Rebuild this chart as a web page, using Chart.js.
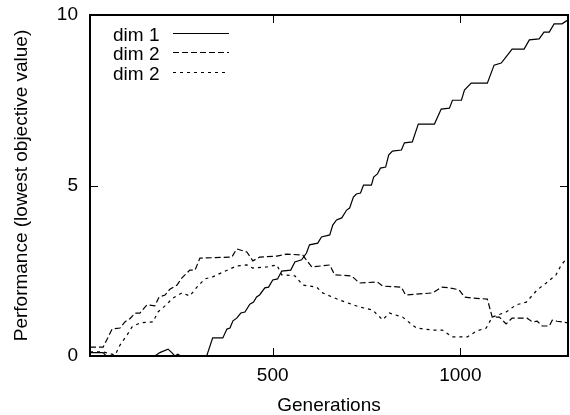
<!DOCTYPE html>
<html>
<head>
<meta charset="utf-8">
<script src="https://cdn.jsdelivr.net/npm/chart.js@4.4.0/dist/chart.umd.min.js"></script>
<style>
  html, body { margin: 0; padding: 0; background: #fff; }
  canvas { display: block; }
</style>
</head>
<body>
<canvas id="perfChart" width="570" height="415"></canvas>
<script>
// ===== data =====
const dim1Gen = [13,48,56,186,199,221,231,239,247,255,324,340,367,378,386,394,404,415,426,439,
  449,457,465,479,489,500,513,524,548,559,577,590,598,620,630,652,660,670,684,697,
  705,715,723,734,742,763,769,779,787,801,809,819,843,851,872,888,931,949,971,979,
  1003,1011,1029,1072,1090,1109,1122,1138,1170,1184,1210,1223,1237,1250,1271,1282,1287];
const dim1Perf = [0.1,0.1,0,0,0.1,0.2,0.1,0,0.05,0,0,0.53,0.53,0.79,0.82,1.03,1.11,1.26,1.29,1.52,
  1.58,1.73,1.79,2.0,2.02,2.23,2.26,2.49,2.52,2.76,2.82,3.02,3.26,3.31,3.49,3.55,3.84,3.99,4.05,4.28,
  4.34,4.66,4.75,4.78,5.01,5.01,5.25,5.34,5.51,5.54,5.89,6.01,6.04,6.25,6.28,6.8,6.8,7.24,7.27,7.5,
  7.5,7.8,8.0,8.0,8.53,8.59,8.77,9.0,9.0,9.27,9.3,9.5,9.5,9.74,9.74,9.82,9.85];

const dim2Gen = [13,48,72,93,106,120,133,146,165,186,197,213,226,245,258,279,293,306,391,404,
  431,447,465,511,537,580,604,652,665,710,731,779,793,843,854,891,926,950,971,997,
  1011,1032,1072,1085,1104,1122,1138,1178,1192,1205,1218,1237,1245,1258,1287];
const dim2Perf = [0.26,0.26,0.79,0.82,1.0,1.1,1.26,1.26,1.5,1.47,1.73,1.79,1.96,2.08,2.29,2.52,2.52,2.87,2.9,3.14,
  3.05,2.79,2.9,2.93,2.99,2.96,2.61,2.67,2.38,2.35,2.14,2.17,2.05,2.02,1.79,1.82,1.85,2.02,2.0,1.94,
  1.73,1.70,1.67,1.14,1.14,0.94,1.11,1.11,1.0,1.02,0.88,0.88,1.05,1.02,0.97];

const dim3Gen = [13,48,80,93,112,125,146,181,194,213,234,258,279,298,319,340,367,404,431,447,
  484,511,524,559,580,617,633,678,731,766,793,811,846,883,926,952,979,1019,1043,1069,
  1085,1122,1149,1176,1205,1229,1255,1269,1287];
const dim3Perf = [0.12,0.12,0.03,0.32,0.62,0.85,0.97,1.0,1.29,1.47,1.7,1.85,1.76,2.02,2.26,2.32,2.46,2.64,2.67,2.58,
  2.61,2.67,2.38,2.35,2.08,2.02,1.85,1.64,1.44,1.35,1.06,1.26,1.14,0.82,0.76,0.76,0.56,0.56,0.73,0.82,
  1.14,1.29,1.5,1.58,1.94,2.14,2.38,2.67,2.9];

const seriesLabels = ['dim 1', 'dim 2', 'dim 2'];
const xTicks = [500, 1000];
const yTicks = [0, 5, 10];

// ===== helpers =====
const FONT = '"Liberation Sans", Arial, sans-serif';
const FONT_SIZE = 19;
const toPoints = (xs, ys) => xs.map((x, i) => ({ x, y: ys[i] }));

Chart.defaults.font.family = FONT;
Chart.defaults.font.size = FONT_SIZE;
Chart.defaults.color = '#000';

// gnuplot style box with inward (mirrored) tics
const frameTicks = {
  id: 'frameTicks',
  afterDatasetsDraw(chart) {
    const { ctx, chartArea: a, scales } = chart;
    const len = 8;
    ctx.save();
    ctx.strokeStyle = '#000';
    ctx.lineWidth = 1;
    ctx.beginPath();
    xTicks.forEach(v => {
      const px = Math.round(scales.x.getPixelForValue(v)) + 0.5;
      ctx.moveTo(px, a.bottom); ctx.lineTo(px, a.bottom - len);
      ctx.moveTo(px, a.top); ctx.lineTo(px, a.top + len);
    });
    yTicks.forEach(v => {
      const py = Math.round(scales.y.getPixelForValue(v)) + 0.5;
      ctx.moveTo(a.left, py); ctx.lineTo(a.left + len, py);
      ctx.moveTo(a.right, py); ctx.lineTo(a.right - len, py);
    });
    ctx.stroke();
    ctx.lineWidth = 2;
    ctx.strokeRect(a.left, a.top, a.right - a.left, a.bottom - a.top);
    ctx.restore();
  }
};

// key in the top left corner, text then line sample
const keyBox = {
  id: 'keyBox',
  afterDraw(chart) {
    const { ctx } = chart;
    ctx.save();
    ctx.font = FONT_SIZE + 'px ' + FONT;
    ctx.fillStyle = '#000';
    ctx.textAlign = 'left';
    ctx.textBaseline = 'alphabetic';
    chart.data.datasets.forEach((ds, i) => {
      const base = 41 + i * 19.3;
      ctx.fillText(ds.label, 113, base);
      ctx.beginPath();
      ctx.setLineDash(ds.borderDash || []);
      ctx.lineWidth = ds.borderWidth;
      ctx.strokeStyle = ds.borderColor;
      const ly = Math.round(base - 8) + 0.5;
      ctx.moveTo(173, ly); ctx.lineTo(229, ly);
      ctx.stroke();
    });
    ctx.restore();
  }
};

new Chart(document.getElementById('perfChart'), {
  type: 'line',
  data: {
    datasets: [
      { label: seriesLabels[0], data: toPoints(dim1Gen, dim1Perf), borderColor: '#000', borderWidth: 1.2, borderDash: [] },
      { label: seriesLabels[1], data: toPoints(dim2Gen, dim2Perf), borderColor: '#000', borderWidth: 1.2, borderDash: [6, 3] },
      { label: seriesLabels[2], data: toPoints(dim3Gen, dim3Perf), borderColor: '#000', borderWidth: 1.2, borderDash: [3, 4] }
    ]
  },
  options: {
    responsive: false,
    animation: false,
    devicePixelRatio: 1,
    layout: { padding: { top: 15, right: 2, left: 0, bottom: 0 } },
    elements: { point: { radius: 0 }, line: { tension: 0 } },
    plugins: { legend: { display: false }, tooltip: { enabled: false } },
    scales: {
      x: {
        type: 'linear',
        min: 13,
        max: 1287,
        grid: { display: false, drawTicks: false },
        border: { display: false },
        ticks: { padding: 8, maxRotation: 0, callback: v => String(v) },
        afterBuildTicks: s => { s.ticks = xTicks.map(value => ({ value })); },
        afterFit: s => { s.height = 59; s.paddingLeft = 0; s.paddingRight = 0; },
        title: { display: true, text: 'Generations', font: { lineHeight: 1 }, padding: { top: 0, bottom: 0 } }
      },
      y: {
        min: 0,
        max: 10,
        grid: { display: false, drawTicks: false },
        border: { display: false },
        ticks: { padding: 12, callback: v => String(v) },
        afterBuildTicks: s => { s.ticks = yTicks.map(value => ({ value })); },
        afterFit: s => { s.width = 90; s.paddingTop = 0; s.paddingBottom = 0; },
        title: { display: true, text: 'Performance (lowest objective value)', font: { lineHeight: 1 }, padding: { top: 12, bottom: 0 } }
      }
    }
  },
  plugins: [frameTicks, keyBox]
});
</script>
</body>
</html>
